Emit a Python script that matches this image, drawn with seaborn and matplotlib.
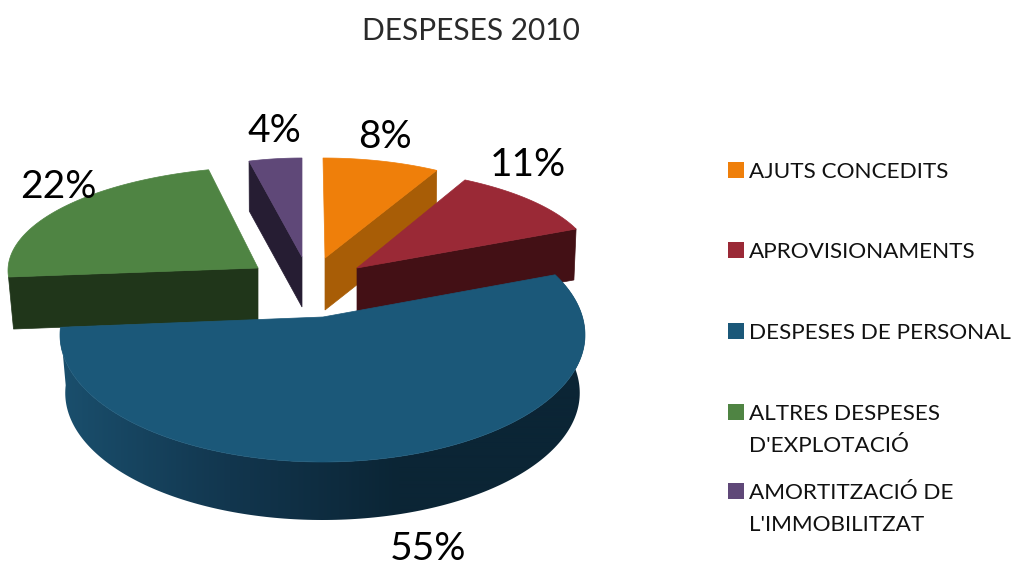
import numpy as np
import matplotlib
matplotlib.use("Agg")
import matplotlib.pyplot as plt
from matplotlib.colors import ListedColormap
from matplotlib.patches import Polygon
import seaborn as sns

title = "DESPESES 2010"
categories = ["AJUTS CONCEDITS", "APROVISIONAMENTS", "DESPESES DE PERSONAL",
              "ALTRES DESPESES\nD'EXPLOTACIÓ", "AMORTITZACIÓ DE\nL'IMMOBILITZAT"]
values = [8, 11, 55, 22, 4]

top_colors = ["#ef7f0a", "#9a2936", "#1b5879", "#4f8443", "#5f4878"]
side_colors = ["#a85d06", "#431015", "#0c2838", "#20361a", "#261d33"]

# layout of each exploded slice, in pixels
apex = [(325, 258), (357, 268), (323, 317), (258, 268), (302, 257)]
centre = [(323, 258), (345.5, 264.5), (322.5, 335), (275, 270.5), (302, 257)]
rx = [236, 248, 262.5, 267, 213]
ry_back = [100, 96.5, 130, 104, 99]
ry_front = [100, 96.5, 127, 104, 99]
depth = [52, 51, 58, 52, 50]
shrink = [0.995, 0.99, 0.98, 0.98, 0.995]
# perspective: the drawn ends of a slice lie a few degrees off its true angle
widen = [(0, 0), (0, 0), (7, 6), (0, 0), (0, 0)]
draw_order = [4, 0, 3, 1, 2]

label_pos = [(385, 136.5), (528, 164.5), (428, 549.5), (58, 187.5), (274, 131.5)]
legend_y = [170, 250, 331, 412, 491]

sns.set_theme(style="white")
plt.rcParams["font.family"] = ["Lato", "DejaVu Sans"]

fig = plt.figure(figsize=(10.16, 5.65), dpi=100)
ax = fig.add_axes([0, 0, 1, 1])

wedges, _, autotexts = ax.pie(values, colors=top_colors, startangle=90, counterclock=False,
                              autopct=lambda p: f"{p:.0f}%")
ax.set_aspect("auto")
ax.set_xlim(0, 1016)
ax.set_ylim(565, 0)
ax.set_axis_off()

side_ramp = ListedColormap(sns.blend_palette(["#1a4f6d", "#12364e", "#0b2535"], 256))


def arc_point(i, theta, bottom=False):
    t = np.radians(theta)
    ry = ry_front[i] if np.sin(t) < 0 else ry_back[i]
    scale = shrink[i] if bottom else 1
    x = centre[i][0] + scale * rx[i] * np.cos(t)
    y = centre[i][1] - ry * np.sin(t) + (depth[i] if bottom else 0)
    return x, y


for z, i in enumerate(draw_order):
    w = wedges[i]
    th1, th2 = sorted((w.theta1, w.theta2))
    th1, th2 = th1 - widen[i][0], th2 + widen[i][1]
    thetas = np.linspace(th1, th2, 200)
    base = 10 * z + 2

    if th2 - th1 > 180:
        # round front of the big slice, shaded from left to right
        outline = [arc_point(i, th) for th in thetas] + [arc_point(i, th, True) for th in thetas[::-1]]
        grad = np.clip((np.linspace(60, 590, 530) - 60) / 340, 0, 1)[None, :]
        img = ax.imshow(grad, cmap=side_ramp, vmin=0, vmax=1, aspect="auto", zorder=base,
                        extent=(60, 590, 530, 260), interpolation="bilinear")
        clip = Polygon(outline, transform=ax.transData, fc="none", ec="none")
        ax.add_patch(clip)
        img.set_clip_path(clip)
        ax.set_xlim(0, 1016)
        ax.set_ylim(565, 0)
    else:
        # flat cut face turned towards the viewer
        end = max((th1, th2), key=lambda th: arc_point(i, th)[1])
        p = arc_point(i, end)
        q = (apex[i][0] + shrink[i] * (p[0] - apex[i][0]), p[1] + depth[i])
        quad = [apex[i], p, q, (apex[i][0], apex[i][1] + depth[i])]
        ax.add_patch(Polygon(quad, fc=side_colors[i], ec=side_colors[i], lw=0.5, zorder=base))

    face = [apex[i]] + [arc_point(i, th) for th in thetas]
    ax.add_patch(Polygon(face, fc=top_colors[i], ec=top_colors[i], lw=0.5, zorder=base + 1))
    w.remove()

for t, pos in zip(autotexts, label_pos):
    t.set_position(pos)
    t.set_fontsize(28)
    t.set_color("black")
    t.set_ha("center")
    t.set_va("center")
    t.set_zorder(100)

ax.scatter([736] * 5, legend_y, s=117, marker="s", c=top_colors, linewidths=0, zorder=100)
for y, name in zip(legend_y, categories):
    ax.text(749, y - 8, name, fontsize=16.2, va="top", ha="left", color="#111111",
            linespacing=1.75, zorder=100)

ax.text(471, 31, title, fontsize=21.5, ha="center", va="center", color="#2a2a2a", zorder=100)

fig.savefig("out.png", dpi=100)
